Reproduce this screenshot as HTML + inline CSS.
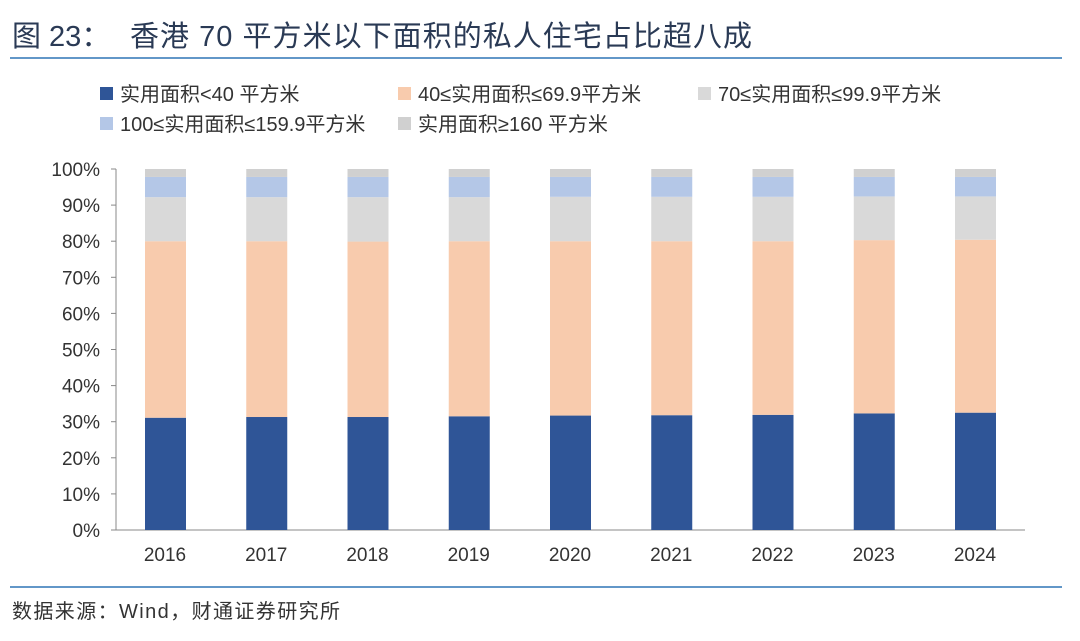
<!DOCTYPE html>
<html><head><meta charset="utf-8"><style>
body{margin:0;background:#fff;width:1080px;height:636px;overflow:hidden;font-family:"Liberation Sans","Noto Sans CJK SC",sans-serif;}
</style></head><body>
<svg width="1080" height="636">
<text x="12" y="46" font-size="29" fill="#2a3a55" font-family="Liberation Sans, Noto Sans CJK SC, sans-serif">图 23：</text>
<text x="130" y="46" font-size="29" fill="#2a3a55" font-family="Liberation Sans, Noto Sans CJK SC, sans-serif" textLength="622">香港 70 平方米以下面积的私人住宅占比超八成</text>
<line x1="10" y1="58" x2="1062" y2="58" stroke="#2e75b6" stroke-width="1.5"/>
<g id="legend" font-size="20" fill="#333"></g>
<g id="axis"></g>
<g id="bars"></g>
<line x1="10" y1="587" x2="1062" y2="587" stroke="#2e75b6" stroke-width="1.5"/>
<text x="12" y="618" font-size="20" fill="#333" textLength="328">数据来源：Wind，财通证券研究所</text>
</svg>
<script>
const categories=["2016","2017","2018","2019","2020","2021","2022","2023","2024"];
const s1=[31.1,31.3,31.3,31.5,31.7,31.8,31.9,32.3,32.5];
const s2=[48.9,48.7,48.6,48.5,48.3,48.2,48.1,48.0,47.9];
const s3=[12.2,12.2,12.3,12.2,12.3,12.3,12.3,12.1,12.0];
const s4=[5.6,5.6,5.6,5.6,5.5,5.5,5.5,5.4,5.4];
const s5=[2.2,2.2,2.2,2.2,2.2,2.2,2.2,2.2,2.2];
const seriesNames=["实用面积<40 平方米","40≤实用面积≤69.9平方米","70≤实用面积≤99.9平方米","100≤实用面积≤159.9平方米","实用面积≥160 平方米"];
const yTicks=[0,10,20,30,40,50,60,70,80,90,100];
const colors=["#2f5597","#f8cbad","#d9d9d9","#b4c7e7","#d0d0d0"];
const NS="http://www.w3.org/2000/svg";
const y0=530,y1=169,x0=116;
const y=v=>y0-(v/100)*(y0-y1);
const xc=i=>165+i*101.25;
function mk(t,a,p){const e=document.createElementNS(NS,t);for(const k in a)e.setAttribute(k,a[k]);p.appendChild(e);return e;}
const ax=document.getElementById('axis');
const al=mk('line',{x1:x0,y1:y0,x2:x0,y2:y1,stroke:'#888'},ax);


const xl=mk('line',{x1:x0,y1:y0,x2:1025,y2:y0,stroke:'#888'},ax);


yTicks.forEach(v=>{
 const tk=mk('line',{x1:x0-5,y1:y(v),x2:x0,y2:y(v),stroke:'#888'},ax);
 
 
 const t=mk('text',{x:100,y:y(v)+7,'text-anchor':'end','font-size':19,fill:'#333'},ax);t.textContent=v+'%';
 
 
});
const bg=document.getElementById('bars');
const all=[s1,s2,s3,s4,s5];
categories.forEach((c,i)=>{
 let acc=0;
 all.forEach((s,k)=>{
  const r=mk('rect',{x:xc(i)-20,width:41,y:y(acc+s[i]),height:y(acc)-y(acc+s[i]),fill:colors[k]},bg);
  
  
  acc+=s[i];
 });
 const t=mk('text',{x:xc(i),y:561,'text-anchor':'middle','font-size':19,fill:'#333'},ax);t.textContent=c;
 
 
});
const lg=document.getElementById('legend');
const lp=[[100,101],[398,101],[698,101],[100,131],[398,131]];
seriesNames.forEach((n,k)=>{
 const g=mk('g',{},lg);
 
 
 mk('rect',{x:lp[k][0],y:lp[k][1]-14,width:13,height:13,fill:colors[k]},g);
 const t=mk('text',{x:lp[k][0]+20,y:lp[k][1]},g);t.textContent=n;
});
</script>
</body></html>
